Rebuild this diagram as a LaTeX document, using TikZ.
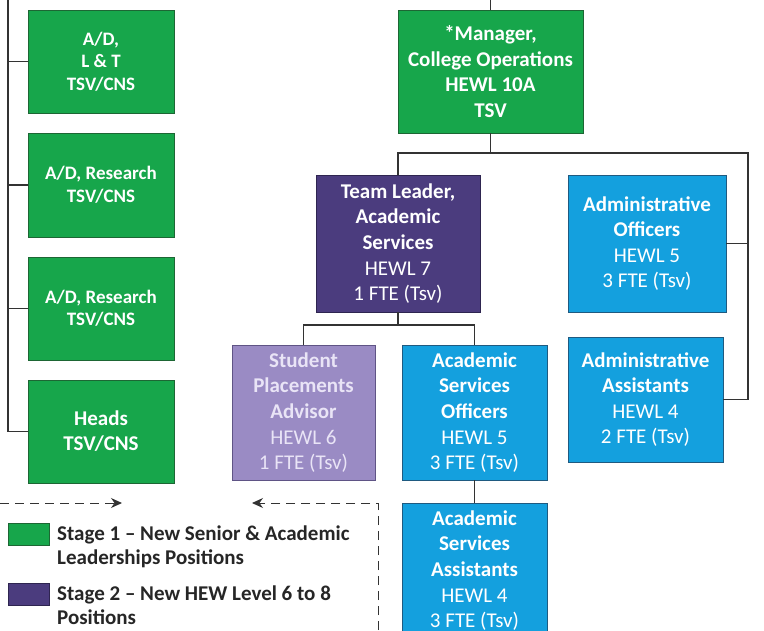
\documentclass[tikz,border=0pt]{standalone}
\usepackage{fontspec}
\setmainfont{Carlito}
\usetikzlibrary{arrows.meta}
\definecolor{grn}{HTML}{17A64B}
\definecolor{grnb}{HTML}{1D6634}
\definecolor{purp}{HTML}{4B3C7E}
\definecolor{purpb}{HTML}{2E2550}
\definecolor{lav}{HTML}{9A8BC4}
\definecolor{lavb}{HTML}{5F5485}
\definecolor{lavt}{HTML}{E9E4F6}
\definecolor{blu}{HTML}{14A0DE}
\definecolor{blub}{HTML}{1F5A80}
\definecolor{lnk}{HTML}{333333}
\definecolor{legt}{HTML}{262626}
\begin{document}
\begin{tikzpicture}[x=1pt,y=-1pt,
  box/.style={draw, line width=0.9pt, align=center, inner sep=0pt, text=white,
    font=\fontsize{21}{25.6}\selectfont},
  gbox/.style={box, fill=grn, draw=grnb},
  pbox/.style={box, fill=purp, draw=purpb},
  lbox/.style={box, fill=lav, draw=lavb, text=lavt},
  bbox/.style={box, fill=blu, draw=blub},
  link/.style={draw=lnk, line width=1.1pt},
  legline/.style={draw=lnk, line width=1pt, dash pattern=on 9pt off 6pt},
  legtext/.style={anchor=base west, inner sep=0pt, text=legt, font=\fontsize{21}{25}\selectfont\bfseries},
  sw/.style={draw, line width=0.9pt, minimum width=41, minimum height=22, inner sep=0pt}
]
\useasboundingbox[fill=white] (0,0) rectangle (764,630);

% left column
\node[gbox, minimum width=146, minimum height=103, font=\fontsize{19}{22.5}\selectfont\bfseries] (ld) at (101,61.5) {A/D,\\L \& T\\TSV/CNS};
\node[gbox, minimum width=146, minimum height=104, font=\fontsize{19}{22.5}\selectfont\bfseries] (r1) at (101,185) {A/D, Research\\TSV/CNS};
\node[gbox, minimum width=146, minimum height=103, font=\fontsize{19}{22.5}\selectfont\bfseries] (r2) at (101,308.5) {A/D, Research\\TSV/CNS};
\node[gbox, minimum width=146, minimum height=103, font=\fontsize{21}{25}\selectfont\bfseries] (hd) at (101,431.5) {Heads\\TSV/CNS};

\coordinate (l0) at (8,0);
\draw[link] (l0) |- (hd.west);
\draw[link] (ld.west) -- (ld.west -| l0);
\draw[link] (r1.west) -- (r1.west -| l0);
\draw[link] (r2.west) -- (r2.west -| l0);

% manager
\node[gbox, minimum width=185, minimum height=123, font=\fontsize{21}{25.6}\selectfont\bfseries] (mg) at (490.5,71.5) {*Manager,\\College Operations\\HEWL 10A\\TSV};
\coordinate (mt) at (490.5,0);
\draw[link] (mt) -- (mg.north);

% second level
\node[pbox, minimum width=164, minimum height=137] (tl) at (398,243.5) {\textbf{Team Leader,}\\\textbf{Academic}\\\textbf{Services}\\HEWL 7\\1 FTE (Tsv)};
\node[bbox, minimum width=158, minimum height=137] (ao) at (647,243.5) {\textbf{Administrative}\\\textbf{Officers}\\HEWL 5\\3 FTE (Tsv)};
\node[bbox, minimum width=155, minimum height=125] (aa) at (645.5,399.5) {\textbf{Administrative}\\\textbf{Assistants}\\HEWL 4\\2 FTE (Tsv)};

\coordinate (h1) at (398,153);
\coordinate (h2) at (748,153);
\draw[link] (mg.south) -- (mg.south |- h1);
\draw[link] (tl.north) -- (h1) -- (h2) |- (aa.east);
\draw[link] (ao.east) -- (ao.east -| h2);

% third level
\node[lbox, minimum width=143, minimum height=135] (sp) at (303.5,412.5) {\textbf{Student}\\\textbf{Placements}\\\textbf{Advisor}\\HEWL 6\\1 FTE (Tsv)};
\node[bbox, minimum width=145, minimum height=135] (aso) at (474.5,412.5) {\textbf{Academic}\\\textbf{Services}\\\textbf{Officers}\\HEWL 5\\3 FTE (Tsv)};
\node[bbox, minimum width=145, minimum height=135] (asa) at (474.5,570.5) {\textbf{Academic}\\\textbf{Services}\\\textbf{Assistants}\\HEWL 4\\3 FTE (Tsv)};

\coordinate (t2) at (398,325);
\draw[link] (tl.south) -- (t2);
\draw[link] (sp.north) |- (t2);
\draw[link] (aso.north) |- (t2);
\draw[link] (aso.south) -- (asa.north);

% legend
\coordinate (la) at (0,503);
\coordinate (lb) at (122,503);
\coordinate (lc) at (378,630);
\coordinate (ld2) at (378,503);
\coordinate (le) at (252,503);
\draw[legline, -{Stealth[length=11pt,width=10pt]}] (la) -- (lb);
\draw[legline, -{Stealth[length=11pt,width=10pt]}] (lc) -- (ld2) -- (le);

\node[sw, fill=grn, draw=grnb] (s1) at (28.5,534) {};
\node[legtext] (t1a) at (57,540) {Stage 1 – New Senior \& Academic};
\node[legtext] (t1b) at (57,564.5) {Leaderships Positions};
\node[sw, fill=purp, draw=purpb] (s2) at (28.5,594) {};
\node[legtext] (t2a) at (57,600) {Stage 2 – New HEW Level 6 to 8};
\node[legtext] (t2b) at (57,624) {Positions};
\end{tikzpicture}
\end{document}
